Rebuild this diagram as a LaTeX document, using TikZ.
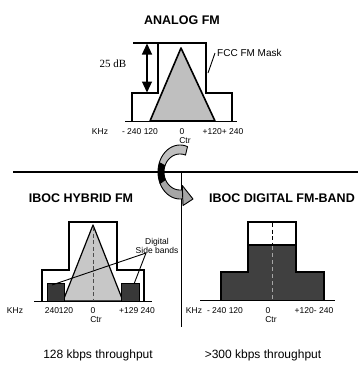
\documentclass[tikz,border=0pt]{standalone}
\usepackage{fontspec}
\setmainfont{Liberation Sans}
\newfontfamily\serifface{Liberation Serif}
\usetikzlibrary{arrows.meta}
\tikzset{
  mask/.style={draw=black, line width=1.3pt, line join=miter},
  tri/.style={draw=black, line width=1.6pt, fill=black!25, line join=round},
  trithin/.style={draw=black, line width=1.2pt, fill=black!22, line join=round},
  darkbox/.style={fill=black!78, draw=black, line width=0.8pt},
  axisline/.style={line width=1.5pt},
  lbl/.style={font=\fontsize{8.5}{9}\selectfont, inner sep=0pt},
  ttl/.style={font=\fontsize{12.5}{14}\selectfont\bfseries, inner sep=0pt},
  captext/.style={font=\fontsize{12}{14}\selectfont, inner sep=0pt},
  leader/.style={draw=black, line width=0.9pt},
  ribbon/.style={draw=black, line width=0.9pt, line join=round}
}
\begin{document}
\begin{tikzpicture}[x=1pt,y=-1pt]
\useasboundingbox (0,0) rectangle (361,365);

% ---------- top: analog FM ----------
\node[ttl] (t1) at (182,20) {ANALOG FM};
\filldraw[tri] (150,121) -- (181,48) -- (215,121) -- cycle;
\draw[mask] (132,121) -- (132,93) -- (158,93) -- (158,43) -- (206,43) -- (206,93) -- (232,93) -- (232,121);
\draw[mask] (133,43) -- (158,43);
\draw[axisline] (125,121.5) -- (237,121.5);
\coordinate (dbtop) at (147,43.5);
\coordinate (dbbot) at (147,92.5);
\draw[line width=1.1pt, {Triangle[length=11pt,width=10pt]}-{Triangle[length=11pt,width=10pt]}] (dbtop) -- (dbbot);
\node[font=\serifface\fontsize{11}{12}\selectfont, inner sep=0pt] (db) at (113,64) {25 dB};
\node[font=\fontsize{10}{11}\selectfont, inner sep=0pt, anchor=west] (fcc) at (217,53) {FCC FM Mask};
\coordinate (fccend) at (208,73);
\draw[leader] ([xshift=-2pt]fcc.west) -- (fccend);
\node[lbl] (a1) at (100,132) {KHz};
\node[lbl] (a2) at (140,132) {- 240 120};
\node[lbl] (a3) at (182,132) {0};
\node[lbl] (a4) at (223,132) {+120+ 240};
\node[lbl] (a5) at (185,141) {Ctr};

% ---------- divider ----------
\draw[line width=0.8pt] (181,172) -- (181,327);

% ---------- ribbon arrow ----------
\filldraw[ribbon, fill=black!25]
  plot[domain=70:160, samples=20, smooth] ({180+22*cos(\x)},{172-27*sin(\x)})
  -- plot[domain=160:70, samples=20, smooth] ({180+16*cos(\x)},{172-18*sin(\x)}) -- cycle;
\filldraw[ribbon, fill=black]
  plot[domain=160:205, samples=12, smooth] ({180+22*cos(\x)},{172-27*sin(\x)})
  -- plot[domain=205:160, samples=12, smooth] ({180+16*cos(\x)},{172-18*sin(\x)}) -- cycle;
\filldraw[ribbon, fill=black!35]
  plot[domain=205:278, samples=16, smooth] ({180+22*cos(\x)},{172-27*sin(\x)})
  -- plot[domain=278:205, samples=16, smooth] ({180+16*cos(\x)},{172-18*sin(\x)}) -- cycle;
\filldraw[ribbon, fill=black!35] (182.3,185.5) -- (193,199) -- (183,205.5) -- cycle;

% ---------- horizontal separator ----------
\draw[line width=2.2pt] (13,172) -- (358,172);

% ---------- bottom left: IBOC hybrid ----------
\node[ttl] (t2) at (81,198) {IBOC HYBRID FM};
\draw[mask] (42,301) -- (42,270) -- (69,270) -- (69,222) -- (117,222) -- (117,270) -- (144,270) -- (144,301);
\filldraw[trithin] (63,301) -- (93,225) -- (123,301) -- cycle;
\draw[line width=0.9pt, dash pattern=on 4pt off 2.5pt, black!70] (93,227) -- (93,301);
\filldraw[darkbox] (47,283) rectangle (64,301);
\filldraw[darkbox] (121,283) rectangle (139,301);
\draw[axisline] (34,301.5) -- (152,301.5);
\node[align=center, font=\fontsize{8.5}{7.5}\selectfont, inner sep=0pt] (sb) at (157,246) {Digital\\Side bands};
\coordinate (sbfoot) at (146,253);
\coordinate (sbl) at (52,285);
\coordinate (sbr) at (134,284);
\draw[leader] (sbfoot) -- (sbl);
\draw[leader] (sbfoot) -- (sbr);
\node[lbl] (b1) at (15,311) {KHz};
\node[lbl] (b2) at (59,311) {240120};
\node[lbl] (b3) at (93,311) {0};
\node[lbl] (b4) at (137,311) {+129 240};
\node[lbl] (b5) at (96,320) {Ctr};
\node[captext] (c1) at (98,355) {128 kbps throughput};

% ---------- bottom right: IBOC digital ----------
\node[ttl] (t3) at (282,198) {IBOC DIGITAL FM-BAND};
\fill[black!75] (248,245) rectangle (296,300);
\fill[black!75] (221,272) rectangle (324,300);
\draw[mask] (221,300) -- (221,272) -- (248,272) -- (248,222) -- (296,222) -- (296,272) -- (324,272) -- (324,300);
\draw[mask] (248,245) -- (296,245);
\draw[line width=0.9pt, dash pattern=on 4pt off 2.5pt] (272,223) -- (272,245);
\draw[line width=0.9pt, dash pattern=on 4pt off 3pt, black!35] (272,246) -- (272,300);
\draw[axisline] (200,300.5) -- (335,300.5);
\node[lbl] (d1) at (194,311) {KHz};
\node[lbl] (d2) at (225,311) {- 240 120};
\node[lbl] (d3) at (268,311) {0};
\node[lbl] (d4) at (314,311) {+120- 240};
\node[lbl] (d5) at (271,320) {Ctr};
\node[captext] (c2) at (263,355) {>300 kbps throughput};
\end{tikzpicture}
\end{document}
